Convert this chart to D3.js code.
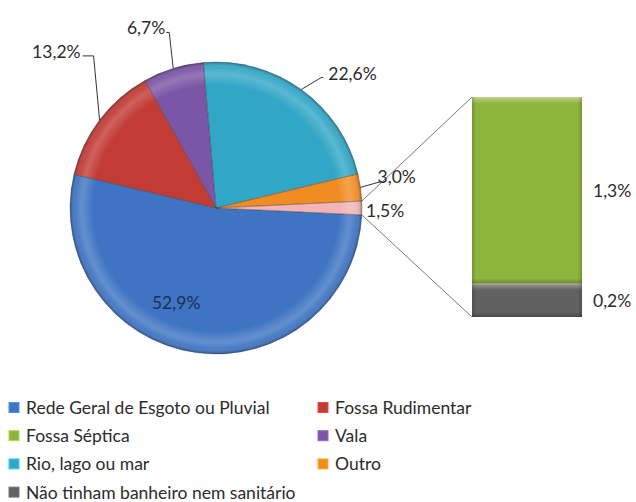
<!DOCTYPE html>
<html><head><meta charset="utf-8">
<script src="https://cdn.jsdelivr.net/npm/d3@7"></script>
<style>
body{margin:0;background:#fff}
svg{display:block}
text{font-family:Lato,"Open Sans",sans-serif;fill:#2b2b2b}
</style>
</head><body>
<script>
// ---- data ----
const categories = ["Rede Geral de Esgoto ou Pluvial","Fossa Rudimentar","Fossa Séptica","Vala","Rio, lago ou mar","Outro","Não tinham banheiro nem sanitário"];
const values = [52.9, 13.2, 1.28, 6.7, 22.6, 3.0, 0.23];
const inSecondPlot = [false, false, true, false, false, false, true];
const otherLabel = "Outros";

// ---- styles ----
const colors = ["#3E74C2","#C23B35","#8DB43D","#7B55A6","#32A6C6","#F08C22","#616161"];
const otherColor = "#F2B4B4";
const FS = 17.5;

const W = 636, H = 502;
const svg = d3.select("body").append("svg").attr("width", W).attr("height", H);
const defs = svg.append("defs");
const fmt = v => d3.format(".1f")(v).replace(".", ",") + "%";

// pie layout
const cx = 216, cy = 208, R = 146;
const items = categories.map((c, i) => ({cat: c, value: values[i], color: colors[i], second: inSecondPlot[i]}));
const secondItems = items.filter(d => d.second);
const otherSum = d3.sum(secondItems, d => d.value);
const pieItems = items.filter(d => !d.second).concat([{cat: otherLabel, value: otherSum, color: otherColor, other: true}]);
const total = d3.sum(pieItems, d => d.value);
const half = Math.PI * otherSum / total;
const pie = d3.pie().sort(null).value(d => d.value)
  .startAngle(Math.PI / 2 + half).endAngle(Math.PI / 2 + half + 2 * Math.PI);
const arcs = pie(pieItems);
const arc = d3.arc().innerRadius(0).outerRadius(R);
const rimPt = a => [cx + R * Math.sin(a), cy - R * Math.cos(a)];

// gradient overlay for bevel look (local coords of the pie group)
const rg = defs.append("radialGradient").attr("id", "bevel")
  .attr("gradientUnits", "userSpaceOnUse").attr("cx", 0).attr("cy", 0).attr("r", R);
[[0, "#fff", 0], [0.84, "#fff", 0.0], [0.92, "#fff", 0.2], [0.965, "#fff", 0.06], [1, "#000", 0.3]]
  .forEach(s => rg.append("stop").attr("offset", s[0]).attr("stop-color", s[1]).attr("stop-opacity", s[2]));

const gPie = svg.append("g").attr("transform", `translate(${cx},${cy})`);
gPie.selectAll("path.s").data(arcs).join("path").attr("class", "s")
  .attr("d", arc).attr("fill", d => d.data.color);
gPie.selectAll("path.o").data(arcs).join("path").attr("class", "o")
  .attr("d", arc).attr("fill", "url(#bevel)");
gPie.selectAll("path.e").data(arcs).join("path").attr("class", "e")
  .attr("d", arc).attr("fill", "none").attr("stroke", "rgba(40,40,40,0.25)").attr("stroke-width", 1);

// ---- secondary stacked bar ----
const barX0 = 472, barW = 110, barTop = 97, barBot = 317;
const y = d3.scaleLinear().domain([0, otherSum]).range([barBot, barTop]);
const stackData = secondItems.slice().reverse(); // bottom first: gray, then green
let acc = 0;
const segs = stackData.map(d => { const s = {d, y0: acc, y1: acc + d.value}; acc += d.value; return s; });

segs.forEach((s, i) => {
  const top = y(s.y1), bot = y(s.y0);
  const id = "bg" + i;
  const lg = defs.append("linearGradient").attr("id", id).attr("gradientUnits", "userSpaceOnUse")
    .attr("x1", 0).attr("x2", 0).attr("y1", top).attr("y2", bot);
  const h = bot - top;
  [[0, "#fff", 0.45], [3 / h, "#fff", 0.2], [7 / h, "#fff", 0], [1 - 5 / h, "#000", 0], [1, "#000", 0.25]]
    .forEach(st => lg.append("stop").attr("offset", st[0]).attr("stop-color", st[1]).attr("stop-opacity", st[2]));
  svg.append("rect").attr("x", barX0).attr("y", top).attr("width", barW).attr("height", h).attr("fill", s.d.color);
  svg.append("rect").attr("x", barX0).attr("y", top).attr("width", barW).attr("height", h).attr("fill", `url(#${id})`);
  const lgx = defs.append("linearGradient").attr("id", id + "x").attr("gradientUnits", "userSpaceOnUse")
    .attr("x1", barX0).attr("x2", barX0 + barW).attr("y1", 0).attr("y2", 0);
  [[0, "#000", 0.18], [4 / barW, "#000", 0], [1 - 4 / barW, "#000", 0], [1, "#000", 0.18]]
    .forEach(st => lgx.append("stop").attr("offset", st[0]).attr("stop-color", st[1]).attr("stop-opacity", st[2]));
  svg.append("rect").attr("x", barX0).attr("y", top).attr("width", barW).attr("height", h).attr("fill", `url(#${id}x)`);
  svg.append("text").attr("x", barX0 + barW + 11).attr("y", (top + bot) / 2)
    .attr("dominant-baseline", "central").attr("font-size", FS).text(fmt(s.d.value));
});

// connector lines
const otherArc = arcs[arcs.length - 1];
const pTop = rimPt(otherArc.startAngle), pBot = rimPt(otherArc.endAngle);
svg.append("line").attr("x1", pTop[0]).attr("y1", pTop[1]).attr("x2", barX0).attr("y2", barTop)
  .attr("stroke", "#7a7a7a").attr("stroke-width", 1);
svg.append("line").attr("x1", pBot[0]).attr("y1", pBot[1]).attr("x2", barX0).attr("y2", barBot)
  .attr("stroke", "#7a7a7a").attr("stroke-width", 1);

// ---- pie labels ----
const labelLayout = [
  {inside: true, rad: 0.7, dAngle: 0.26},
  {elbow: [-6, -64], end: [-11, 0], text: [-2, -4], anchor: "end"},
  {elbow: [-4, -36], end: [-3, 0], text: [-1, -5], anchor: "end"},
  {elbow: [20, -12], end: [2, 0], text: [5, -4], anchor: "start"},
  {elbow: [21, -6], end: [0, 0], text: [-4, -5], anchor: "start"},
  {near: true, text: [4, 0], anchor: "start"}
];
arcs.forEach((a, i) => {
  const L = labelLayout[i];
  const mid = (a.startAngle + a.endAngle) / 2;
  if (L.inside) {
    const ang = mid + L.dAngle, r = R * L.rad;
    svg.append("text").attr("x", cx + r * Math.sin(ang)).attr("y", cy - r * Math.cos(ang))
      .attr("text-anchor", "middle").attr("dominant-baseline", "central").attr("font-size", FS)
      .style("fill", "#1c2f55").text(fmt(a.data.value));
    return;
  }
  const p = rimPt(mid);
  if (L.near) {
    svg.append("text").attr("x", p[0] + L.text[0]).attr("y", p[1] + L.text[1] + 2)
      .attr("text-anchor", L.anchor).attr("dominant-baseline", "central").attr("font-size", FS)
      .text(fmt(a.data.value));
    return;
  }
  const e = [p[0] + L.elbow[0], p[1] + L.elbow[1]];
  const f = [e[0] + L.end[0], e[1] + L.end[1]];
  svg.append("polyline").attr("points", [p, e, f].map(q => q.join(",")).join(" "))
    .attr("fill", "none").attr("stroke", "#333").attr("stroke-width", 1);
  svg.append("text").attr("x", f[0] + L.text[0]).attr("y", f[1] + L.text[1])
    .attr("text-anchor", L.anchor).attr("dominant-baseline", "central").attr("font-size", FS)
    .text(fmt(a.data.value));
});

// ---- legend ----
const legX = [9, 318], legY0 = 407.5, legStep = 28.2;
const gLeg = svg.append("g");
items.forEach((d, i) => {
  const col = i % 2, row = Math.floor(i / 2);
  const gx = legX[col], gy = legY0 + row * legStep;
  gLeg.append("rect").attr("x", gx).attr("y", gy - 5).attr("width", 10).attr("height", 10)
    .attr("fill", d.color).attr("stroke", d3.color(d.color).brighter(0.6)).attr("stroke-width", 1);
  gLeg.append("text").attr("x", gx + 17).attr("y", gy).attr("dominant-baseline", "central")
    .attr("font-size", FS).text(d.cat);
});
</script>
</body></html>
